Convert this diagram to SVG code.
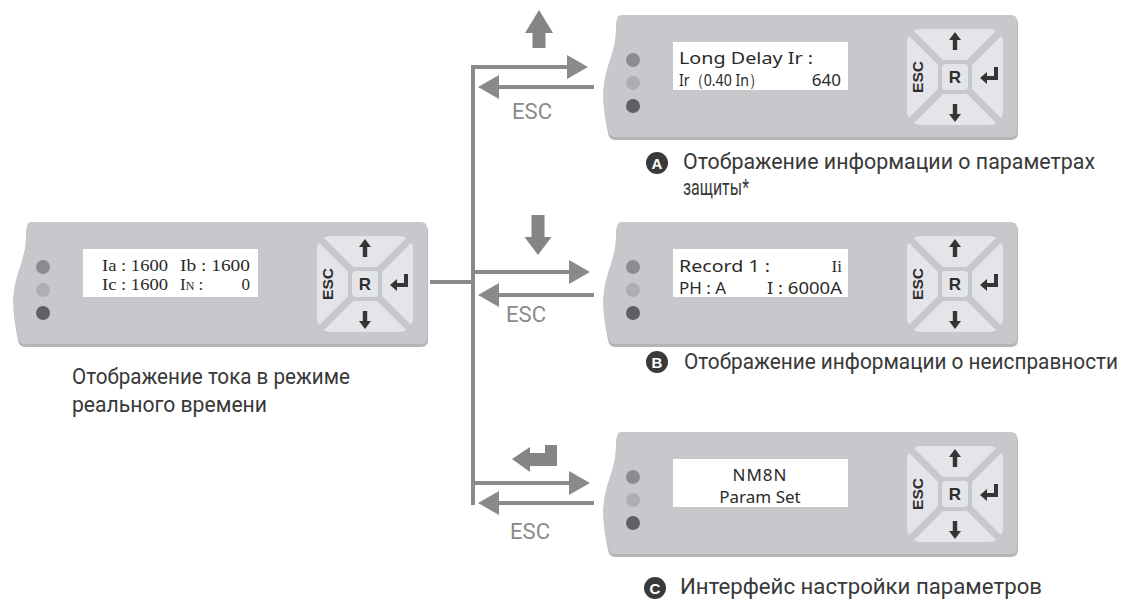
<svg xmlns="http://www.w3.org/2000/svg" xmlns:xlink="http://www.w3.org/1999/xlink" width="1135" height="603" viewBox="0 0 1135 603">
<style>
.panel{fill:#c6c8cc}
.shadow{fill:#b3b5b9}
.pad{fill:#e4e5e8}
.gap{stroke:#c6c8cc;stroke-width:7;fill:none}
.icon{fill:#353535}
.key{font-family:"Liberation Sans",Arial,sans-serif;font-weight:bold;fill:#2e2e2e}
.scr{fill:#ffffff}
.lcd{font-family:"Noto Sans","Open Sans",sans-serif;font-size:17px;fill:#2a2a2a}
.lcds{font-family:"Liberation Serif","Times New Roman",serif;font-size:17px;fill:#2a2a2a}
.wire{stroke:#8a8a8a;stroke-width:4;fill:none}
.blk{fill:#858585}
.esc{font-family:Roboto,"Liberation Sans",sans-serif;font-size:22px;fill:#8a8a8a}
.lbl{font-family:Roboto,"Liberation Sans",sans-serif;font-size:22px;fill:#383838}
.badge{fill:#3a3a3a}
.badgeT{font-family:"Liberation Sans",Arial,sans-serif;font-size:15px;font-weight:bold;fill:#ffffff}
</style>
<defs>
<marker id="ah" markerUnits="userSpaceOnUse" markerWidth="22" markerHeight="24" refX="8" refY="12" orient="auto">
<path d="M0,0 L21,12 L0,24 Z" fill="#8a8a8a"/>
</marker>
<g id="device">
<path class="shadow" d="M-12,2 H378 Q385,2 385,9 V118 Q385,125 378,125 H-18 Q-24,125 -25,118 C-28,102 -31,86 -29,71 C-27,51 -17,37 -17,17 C-17,8 -16,2 -12,2 Z"/>
<path class="panel" d="M-12,0 H378 Q384,0 384,6 V116 Q384,122 378,122 H-18 Q-24,122 -25,115 C-28,100 -31,85 -29,70 C-27,50 -17,35 -17,15 C-17,6 -16,0 -12,0 Z"/>
<circle cx="0" cy="45" r="7" fill="#8b8c90"/>
<circle cx="0" cy="68" r="7" fill="#adaeb2"/>
<circle cx="0" cy="91" r="7" fill="#5f6064"/>
<rect class="scr" x="40" y="27" width="175" height="48"/>
<g transform="translate(322,62)">
<rect class="pad" x="-48" y="-48" width="96" height="96" rx="14"/>
<path class="gap" d="M-56,-56 L56,56 M56,-56 L-56,56"/>
<rect class="panel" x="-17" y="-17" width="34" height="34" rx="5"/>
<rect class="pad" x="-13" y="-13" width="26" height="26" rx="4"/>
<path class="icon" d="M0,-45 L6,-37 L2.2,-37 L2.2,-27 L-2.2,-27 L-2.2,-37 L-6,-37 Z"/>
<path class="icon" d="M0,45 L6,37 L2.2,37 L2.2,27 L-2.2,27 L-2.2,37 L-6,37 Z"/>
<path class="icon" d="M25,1 L32,-5 L32,-1 L39,-1 L39,-10 L43,-10 L43,3 L32,3 L32,7 Z"/>
<text class="key" x="0" y="6" font-size="17" text-anchor="middle">R</text>
<text class="key" transform="translate(-32,0) rotate(-90)" x="0" y="0" font-size="15" text-anchor="middle" textLength="32" lengthAdjust="spacingAndGlyphs">ESC</text>
</g>
</g>
</defs>

<g id="connectors">
<path class="wire" d="M473,505 V67 H575" marker-end="url(#ah)"/>
<path class="wire" d="M594,87 H491" marker-end="url(#ah)"/>
<path class="wire" d="M430,282 H473"/>
<path class="wire" d="M473,272 H577" marker-end="url(#ah)"/>
<path class="wire" d="M594,295 H491" marker-end="url(#ah)"/>
<path class="wire" d="M473,483 H577" marker-end="url(#ah)"/>
<path class="wire" d="M594,503 H491" marker-end="url(#ah)"/>
<path class="blk" d="M539,10 L553,33 L545.5,33 L545.5,48 L532.5,48 L532.5,33 L525,33 Z"/>
<path class="blk" d="M538,255 L551.5,237 L544.5,237 L544.5,215 L531.5,215 L531.5,237 L524.5,237 Z"/>
<path class="blk" d="M512,459 L530,447 L530,453 L545,453 L545,445 L557,445 L557,466 L530,466 L530,472 Z"/>
<text class="esc" x="532" y="119" text-anchor="middle" textLength="40" lengthAdjust="spacingAndGlyphs">ESC</text>
<text class="esc" x="526" y="322" text-anchor="middle" textLength="40" lengthAdjust="spacingAndGlyphs">ESC</text>
<text class="esc" x="530" y="539" text-anchor="middle" textLength="40" lengthAdjust="spacingAndGlyphs">ESC</text>
</g>

<g id="node-current">
<use xlink:href="#device" href="#device" x="43" y="222"/>
<text class="lcds" x="102" y="271" textLength="66" lengthAdjust="spacingAndGlyphs">Ia : 1600</text>
<text class="lcds" x="180" y="271" textLength="70" lengthAdjust="spacingAndGlyphs">Ib : 1600</text>
<text class="lcds" x="102" y="290" textLength="66" lengthAdjust="spacingAndGlyphs">Ic : 1600</text>
<text class="lcds" x="180" y="290">I<tspan font-size="12">N</tspan> :</text>
<text class="lcds" x="250" y="290" text-anchor="end">0</text>
<text class="lbl" x="72" y="384" textLength="278" lengthAdjust="spacingAndGlyphs">Отображение тока в режиме</text>
<text class="lbl" x="72" y="412" textLength="195" lengthAdjust="spacingAndGlyphs">реального времени</text>
</g>

<g id="node-a">
<use xlink:href="#device" href="#device" x="633" y="15"/>
<text class="lcd" x="679" y="64" font-size="18" textLength="134" lengthAdjust="spacingAndGlyphs">Long Delay Ir :</text>
<text class="lcd" x="679" y="86" font-size="15" textLength="84" lengthAdjust="spacingAndGlyphs">Ir（0.40 In）</text>
<text class="lcd" x="841" y="86" text-anchor="end">640</text>
<circle class="badge" cx="657" cy="163" r="11"/>
<text class="badgeT" x="657" y="168.5" text-anchor="middle">A</text>
<text class="lbl" x="683" y="169" textLength="412" lengthAdjust="spacingAndGlyphs">Отображение информации о параметрах</text>
<text class="lbl" x="683" y="195" textLength="66" lengthAdjust="spacingAndGlyphs">защиты*</text>
</g>

<g id="node-b">
<use xlink:href="#device" href="#device" x="633" y="222"/>
<text class="lcd" x="679" y="272" textLength="91" lengthAdjust="spacingAndGlyphs">Record 1 :</text>
<text class="lcds" x="842" y="272" text-anchor="end">Ii</text>
<text class="lcd" x="679" y="294">PH : A</text>
<text class="lcd" x="842" y="294" text-anchor="end" textLength="75" lengthAdjust="spacingAndGlyphs">I : 6000A</text>
<circle class="badge" cx="657" cy="362" r="11"/>
<text class="badgeT" x="657" y="367.5" text-anchor="middle">B</text>
<text class="lbl" x="684" y="369" font-size="20" textLength="434" lengthAdjust="spacingAndGlyphs">Отображение информации о неисправности</text>
</g>

<g id="node-c">
<use xlink:href="#device" href="#device" x="633" y="432"/>
<text class="lcd" x="760" y="481" text-anchor="middle" letter-spacing="1">NM8N</text>
<text class="lcd" x="760" y="503" text-anchor="middle">Param Set</text>
<circle class="badge" cx="655" cy="588" r="11"/>
<text class="badgeT" x="655" y="593.5" text-anchor="middle">C</text>
<text class="lbl" x="680" y="594" textLength="362" lengthAdjust="spacingAndGlyphs">Интерфейс настройки параметров</text>
</g>
</svg>
